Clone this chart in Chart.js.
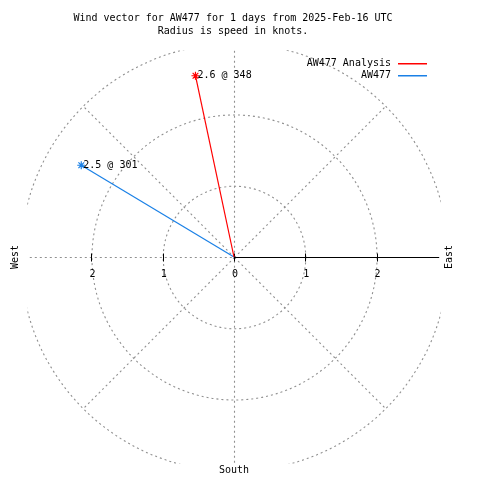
<!DOCTYPE html>
<html lang="en">
<head>
    <meta charset="UTF-8">
    <title>Wind vector AW477</title>
    <script src="https://cdn.jsdelivr.net/npm/chart.js"></script>
    <style>
        body { margin: 0; background: #fff; }
        canvas { display: block; }
    </style>
</head>
<body>
    <canvas id="wind-chart" width="480" height="480"></canvas>

    <script>
        // wind data: speed in knots, direction in degrees
        const seriesNames = ['AW477 Analysis', 'AW477'];
        const seriesColors = ['#ff0000', '#1a80e6'];
        const speeds = [2.6, 2.5];
        const directions = [348, 301];
        const pointLabels = ['2.6 @ 348', '2.5 @ 301'];

        const rings = [1, 2, 3];
        const tickValues = [-2, -1, 0, 1, 2];
        const tickLabels = ['2', '1', '0', '1', '2'];
        const titleLines = ['Wind vector for AW477 for 1 days from 2025-Feb-16 UTC', 'Radius is speed in knots.'];

        const FONT = '10px "DejaVu Sans Mono", monospace';
        const GRID = '#909090';

        function toXY(speed, dir) {
            const a = dir * Math.PI / 180;
            return { x: speed * Math.sin(a), y: speed * Math.cos(a) };
        }

        const datasets = seriesNames.map((name, i) => ({
            label: name,
            data: [{ x: 0, y: 0 }, toXY(speeds[i], directions[i])],
            showLine: true,
            borderColor: seriesColors[i],
            backgroundColor: seriesColors[i],
            borderWidth: 1.2,
            pointStyle: 'star',
            pointRadius: [0, 4],
            pointBorderWidth: 1.2,
            pointBorderColor: seriesColors[i]
        }));

        const polarGrid = {
            id: 'polarGrid',
            beforeDatasetsDraw(chart) {
                const ctx = chart.ctx;
                const xs = chart.scales.x, ys = chart.scales.y;
                const area = chart.chartArea;
                const cx = xs.getPixelForValue(0), cy = ys.getPixelForValue(0);
                const unit = xs.getPixelForValue(1) - cx;
                ctx.save();
                ctx.beginPath();
                ctx.rect(area.left, area.top, area.right - area.left, area.bottom - area.top);
                ctx.clip();
                ctx.translate(0.5, 0.5);
                ctx.strokeStyle = GRID;
                ctx.lineWidth = 1.1;
                ctx.setLineDash([2, 3]);
                rings.forEach(r => {
                    ctx.beginPath();
                    ctx.arc(cx, cy, r * unit, 0, Math.PI * 2);
                    ctx.stroke();
                });
                // diagonals
                const rMax = rings[rings.length - 1] * unit;
                [45, 135, 225, 315].forEach(d => {
                    const a = d * Math.PI / 180;
                    ctx.beginPath();
                    ctx.moveTo(cx, cy);
                    ctx.lineTo(cx + rMax * Math.sin(a), cy - rMax * Math.cos(a));
                    ctx.stroke();
                });
                // axes lines
                ctx.beginPath();
                ctx.moveTo(area.left - 3, cy);
                ctx.lineTo(cx, cy);
                ctx.moveTo(cx, area.top);
                ctx.lineTo(cx, area.bottom);
                ctx.stroke();
                ctx.restore();

                // solid x axis to the east + ticks
                ctx.save();
                ctx.translate(0.5, 0.5);
                ctx.strokeStyle = '#000';
                ctx.lineWidth = 1;
                ctx.beginPath();
                ctx.moveTo(cx, cy);
                ctx.lineTo(area.right - 2, cy);
                ctx.stroke();
                tickValues.forEach(v => {
                    const px = Math.round(xs.getPixelForValue(v));
                    ctx.beginPath();
                    ctx.moveTo(px, cy - 4);
                    ctx.lineTo(px, cy + 4);
                    ctx.stroke();
                });
                ctx.restore();
            },
            afterDatasetsDraw(chart) {
                const ctx = chart.ctx;
                const xs = chart.scales.x, ys = chart.scales.y;
                const cx = xs.getPixelForValue(0), cy = ys.getPixelForValue(0);
                ctx.save();
                ctx.fillStyle = '#000';
                ctx.font = FONT;
                ctx.textBaseline = 'middle';

                // titles
                ctx.textAlign = 'center';
                ctx.fillText(titleLines[0], 233, 18);
                ctx.fillText(titleLines[1], 233, 31);

                // tick labels
                tickValues.forEach((v, i) => {
                    ctx.fillText(tickLabels[i], xs.getPixelForValue(v) + 1, cy + 17);
                });

                // compass labels
                ctx.fillText('South', cx, 470);
                ctx.save();
                ctx.translate(15, cy);
                ctx.rotate(-Math.PI / 2);
                ctx.fillText('West', 0, 0);
                ctx.restore();
                ctx.save();
                ctx.translate(449, cy);
                ctx.rotate(-Math.PI / 2);
                ctx.fillText('East', 0, 0);
                ctx.restore();

                // point labels
                ctx.textAlign = 'left';
                chart.data.datasets.forEach((ds, i) => {
                    const p = ds.data[1];
                    ctx.fillText(pointLabels[i], xs.getPixelForValue(p.x) + 2, ys.getPixelForValue(p.y));
                });

                // legend
                chart.data.datasets.forEach((ds, i) => {
                    const y = 63 + i * 12;
                    ctx.textAlign = 'right';
                    ctx.fillStyle = '#000';
                    ctx.fillText(ds.label, 391, y);
                    ctx.fillStyle = ds.borderColor;
                    ctx.fillRect(398, y, 29, 1.5);
                });
                ctx.restore();
            }
        };

        new Chart(document.getElementById('wind-chart'), {
            type: 'scatter',
            data: { datasets: datasets },
            options: {
                responsive: false,
                animation: false,
                layout: { padding: { left: 27.3, right: 39.3, top: 50.3, bottom: 16.3 } },
                plugins: { legend: { display: false }, title: { display: false }, tooltip: { enabled: false } },
                scales: {
                    x: { type: 'linear', min: -2.9, max: 2.9, display: false },
                    y: { type: 'linear', min: -2.9, max: 2.9, display: false }
                }
            },
            plugins: [polarGrid]
        });
    </script>
</body>
</html>
